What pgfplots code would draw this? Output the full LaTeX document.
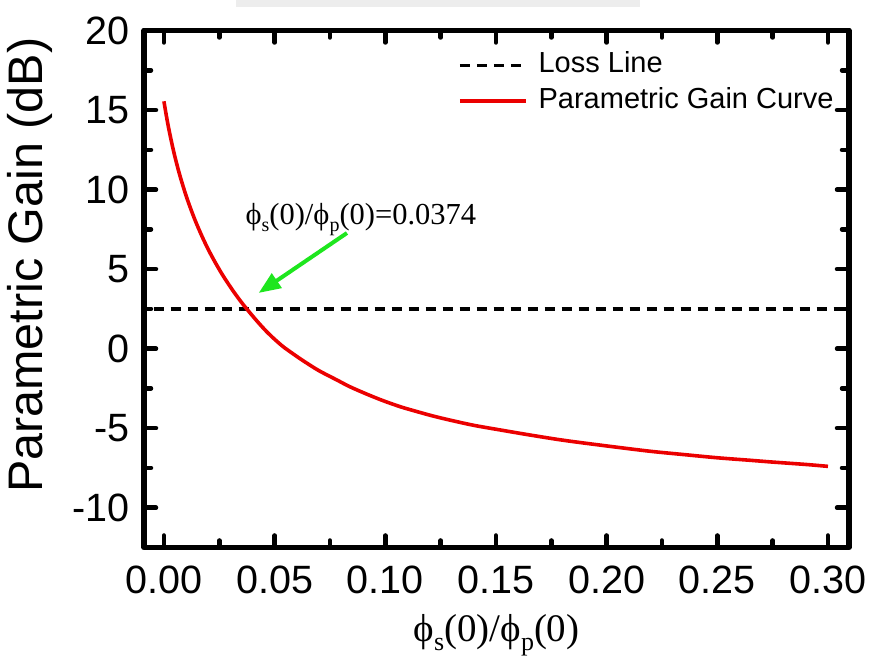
\documentclass[border=0pt]{standalone}
\usepackage{pgfplots}
\pgfplotsset{compat=1.18}
\usepackage{pgfplotstable}
\usepackage{fontspec}
\setmainfont{Liberation Sans}
\newfontfamily\serif{Liberation Serif}
\usetikzlibrary{arrows.meta}
\definecolor{arrowgreen}{RGB}{30,230,30}
\definecolor{curvered}{RGB}{235,0,0}

\pgfplotstableread{
x y
0.000 15.55
0.001 14.72
0.002 13.96
0.003 13.28
0.004 12.64
0.005 12.05
0.0065 11.24
0.008 10.51
0.010 9.62
0.012 8.83
0.014 8.10
0.016 7.44
0.018 6.82
0.0205 6.11
0.0235 5.34
0.027 4.52
0.031 3.68
0.0345 3.01
0.0374 2.50
0.042 1.74
0.0462 1.10
0.050 0.59
0.054 0.11
0.0583 -0.32
0.0614 -0.62
0.0659 -1.03
0.0705 -1.42
0.078 -1.96
0.0841 -2.40
0.092 -2.88
0.0992 -3.28
0.107 -3.66
0.1144 -3.96
0.122 -4.25
0.1295 -4.50
0.140 -4.82
0.1523 -5.12
0.165 -5.42
0.180 -5.75
0.198 -6.08
0.219 -6.44
0.235 -6.66
0.250 -6.86
0.265 -7.02
0.275 -7.13
0.290 -7.28
0.300 -7.40
}\gaincurve

\pgfplotstableread{
x y
-0.02 2.5
0.32 2.5
}\lossline

\begin{document}
\begin{tikzpicture}
\path[use as bounding box] (0pt,0pt) rectangle (870pt,661pt);
\fill[black!7] (236pt,654pt) rectangle (640pt,661pt);
\begin{axis}[
  at={(144pt,113.5pt)}, anchor=south west,
  scale only axis, width=705pt, height=517pt,
  xmin=-0.009, xmax=0.3095, ymin=-12.5, ymax=20,
  xtick={0,0.05,0.1,0.15,0.2,0.25,0.3},
  ytick={-10,-5,0,5,10,15,20},
  minor x tick num=1, minor y tick num=1,
  major tick length=12pt, minor tick length=7pt,
  tick style={line width=4.5pt, line cap=round, black},
  axis line style={line width=5.5pt, line join=round},
  /pgf/number format/assume math mode=true,
  xticklabel style={font=\fontsize{39.5}{39.5}\selectfont, anchor=center, yshift=-32.5pt,
    /pgf/number format/.cd, fixed, fixed zerofill, precision=2},
  yticklabel style={font=\fontsize{39.5}{39.5}\selectfont, anchor=east, inner sep=0pt, xshift=-14pt},
  xlabel={\serif ϕ\raisebox{-9pt}{\fontsize{26}{26}\selectfont s}(0)/ϕ\raisebox{-9pt}{\fontsize{26}{26}\selectfont p}(0)},
  xlabel style={font=\fontsize{39}{39}\selectfont, at={(axis description cs:0.5,-0.1822)}, anchor=base},
  ylabel={Parametric Gain (dB)},
  ylabel style={font=\fontsize{48.5}{48.5}\selectfont, at={(axis description cs:-0.1617,0.546)}, anchor=center, rotate=0},
  legend style={at={(axis description cs:0.4454,0.958)}, anchor=north west, draw=none, fill=none,
    inner sep=0pt, outer sep=0pt, font=\fontsize{29}{29}\selectfont, row sep=9pt, column sep=11pt,
    nodes={inner sep=0pt, text height=20.5pt, text depth=6pt}},
  legend cell align=left,
  legend image code/.code={\draw[#1] (0pt,0pt) -- (66pt,0pt);},
]
\addplot[black, line width=3.5pt, dash pattern=on 10pt off 7pt] table[x=x,y=y] {\lossline};
\addlegendentry{Loss Line}
\addplot[curvered, line width=3.6pt, smooth] table[x=x,y=y] {\gaincurve};
\addlegendentry{Parametric Gain Curve}
\draw[arrowgreen, line width=4pt, -{Triangle[length=22pt,width=17pt]}] (axis cs:0.0827,7.27) -- (axis cs:0.0428,3.50);
\node[anchor=base west, inner sep=0pt, font=\serif\fontsize{30.5}{30.5}\selectfont] at (axis cs:0.0368,7.79)
  {ϕ\raisebox{-7pt}{\fontsize{20}{20}\selectfont s}(0)/ϕ\raisebox{-7pt}{\fontsize{20}{20}\selectfont p}(0)=0.0374};
\end{axis}
\end{tikzpicture}
\end{document}
